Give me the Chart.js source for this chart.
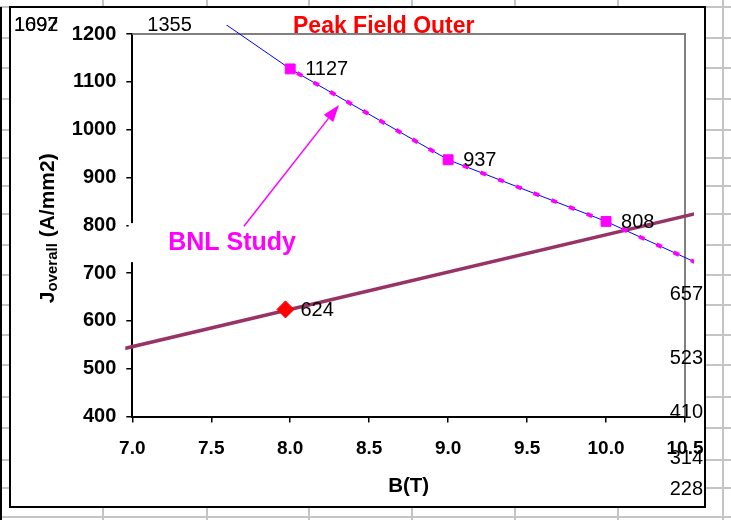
<!DOCTYPE html>
<html>
<head>
<meta charset="utf-8">
<script src="https://cdn.jsdelivr.net/npm/chart.js@4/dist/chart.umd.min.js"></script>
<style>
html, body { margin: 0; padding: 0; background: #fff; }
#contenedor { width: 731px; height: 520px; }
</style>
</head>
<body>
<div id="contenedor"><canvas id="graficaCampo" width="731" height="520"></canvas></div>
<script>
var FUENTE = "'Liberation Sans', Arial, sans-serif";

// B (T) y J overall (A/mm2) del calculo de campo pico
var campoB = [6, 7, 8, 9, 10, 11, 12, 13, 14, 15];
var picoJ = [1697, 1355, 1127, 937, 808, 657, 523, 410, 314, 228];
// recta de carga J = 78 B
var cargaB = [0, 14];
var cargaJ = [0, 1092];
// punto de operacion
var puntoB = [7.97];
var puntoJ = [624];

var marcasX = [7.0, 7.5, 8.0, 8.5, 9.0, 9.5, 10.0, 10.5];
var marcasY = [400, 500, 600, 700, 800, 900, 1000, 1100, 1200];

// lineas de la hoja de calculo detras del grafico
var columnasHoja = [103, 207, 309, 412, 515, 618, 723];
var filasHoja = [7, 38, 68, 99, 130, 158, 186, 214, 245, 275, 305, 335, 365, 397, 428, 460, 488, 517];

// flecha del cuadro de texto, en unidades de los ejes
var flecha = { desdeB: 7.707, desdeJ: 798, hastaB: 8.309, hastaJ: 1051.5 };
var textoBNL = { b: 7.227, j: 748 };

function puntos(xs, ys) {
    var res = [];
    for (var i = 0; i < xs.length; i++) {
        res.push({ x: xs[i], y: ys[i] });
    }
    return res;
}

var etiquetas = [];
for (var i = 0; i < campoB.length; i++) {
    etiquetas.push({ b: campoB[i], j: picoJ[i] });
}
etiquetas.push({ b: puntoB[0], j: puntoJ[0] });
etiquetas.push({ b: cargaB[1], j: cargaJ[1], esquina: true });

var recorte = { left: 7, top: 9, right: 9, bottom: 9 };

var adornos = {
    id: 'adornos',
    beforeDraw: function (chart) {
        var ctx = chart.ctx;
        ctx.save();
        ctx.fillStyle = '#fff';
        ctx.fillRect(0, 0, 731, 520);
        ctx.strokeStyle = '#c4c4c4';
        ctx.lineWidth = 2;
        columnasHoja.forEach(function (x) {
            ctx.beginPath(); ctx.moveTo(x, 0); ctx.lineTo(x, 520); ctx.stroke();
        });
        filasHoja.forEach(function (y) {
            ctx.beginPath(); ctx.moveTo(0, y); ctx.lineTo(731, y); ctx.stroke();
        });
        ctx.fillStyle = '#000';
        ctx.fillRect(0, 7, 2, 513);
        // marco del grafico
        ctx.fillStyle = '#fff';
        ctx.fillRect(10, 7, 695, 500);
        ctx.strokeStyle = '#000';
        ctx.lineWidth = 2;
        ctx.strokeRect(10, 7, 695, 500);
        ctx.restore();
    },
    beforeDatasetsDraw: function (chart) {
        var a = chart.chartArea, ctx = chart.ctx;
        ctx.save();
        ctx.strokeStyle = '#808080';
        ctx.lineWidth = 2;
        ctx.beginPath();
        ctx.moveTo(a.left, a.top);
        ctx.lineTo(a.right, a.top);
        ctx.lineTo(a.right, a.bottom);
        ctx.stroke();
        ctx.restore();
    },
    afterDraw: function (chart) {
        var ctx = chart.ctx, sx = chart.scales.x, sy = chart.scales.y;
        ctx.save();

        // cuadro "BNL Study"
        ctx.font = 'bold 25px ' + FUENTE;
        var tx = sx.getPixelForValue(textoBNL.b), ty = sy.getPixelForValue(textoBNL.j);
        var anchoT = ctx.measureText('BNL Study').width;
        ctx.fillStyle = '#fff';
        ctx.fillRect(tx - 39.5, ty - 27, anchoT + 45, 39);
        ctx.fillStyle = '#FF00FF';
        ctx.textBaseline = 'alphabetic';
        ctx.fillText('BNL Study', tx, ty);

        var x0 = sx.getPixelForValue(flecha.desdeB), y0 = sy.getPixelForValue(flecha.desdeJ);
        var x1 = sx.getPixelForValue(flecha.hastaB), y1 = sy.getPixelForValue(flecha.hastaJ);
        var ang = Math.atan2(y1 - y0, x1 - x0), largo = 17, medio = 6;
        var bx = x1 - largo * Math.cos(ang), by = y1 - largo * Math.sin(ang);
        ctx.strokeStyle = '#FF00FF';
        ctx.lineWidth = 1.5;
        ctx.beginPath(); ctx.moveTo(x0, y0); ctx.lineTo(bx, by); ctx.stroke();
        ctx.beginPath();
        ctx.moveTo(x1, y1);
        ctx.lineTo(bx + medio * Math.sin(ang), by - medio * Math.cos(ang));
        ctx.lineTo(bx - medio * Math.sin(ang), by + medio * Math.cos(ang));
        ctx.closePath();
        ctx.fill();

        // valores junto a cada punto, dentro del marco
        ctx.font = '20px ' + FUENTE;
        ctx.fillStyle = '#000';
        etiquetas.forEach(function (e) {
            var txt = String(e.j), w = ctx.measureText(txt).width;
            var px = sx.getPixelForValue(e.b), py = sy.getPixelForValue(e.j);
            var izq = Math.min(Math.max(px + 15, 14), 703 - w);
            var cy = Math.min(Math.max(py - 1, 23.3), 487.5);
            if (e.esquina) { izq = 14; cy = 23.3; }
            ctx.fillText(txt, izq, cy + 7.2);
        });

        // titulo
        ctx.font = 'bold 23px ' + FUENTE;
        ctx.fillStyle = '#FF0000';
        ctx.fillText('Peak Field Outer', 293, 33);

        // titulos de ejes
        ctx.fillStyle = '#000';
        ctx.font = 'bold 20.5px ' + FUENTE;
        ctx.textAlign = 'center';
        ctx.fillText('B(T)', (chart.chartArea.left + chart.chartArea.right) / 2, 492);
        ctx.textAlign = 'left';

        var fGrande = 'bold 21px ' + FUENTE, fChica = 'bold 15px ' + FUENTE;
        ctx.font = fGrande; var wJ = ctx.measureText('J').width;
        var wR = ctx.measureText(' (A/mm2)').width;
        ctx.font = fChica; var wS = ctx.measureText('overall').width;
        var total = wJ + wS + wR;
        ctx.translate(53.5, (chart.chartArea.top + chart.chartArea.bottom) / 2 + 3);
        ctx.rotate(-Math.PI / 2);
        var cx = -total / 2;
        ctx.font = fGrande; ctx.fillText('J', cx, 0); cx += wJ;
        ctx.font = fChica; ctx.fillText('overall', cx, 3); cx += wS;
        ctx.font = fGrande; ctx.fillText(' (A/mm2)', cx, 0);
        ctx.restore();
    }
};

var ctx = document.getElementById('graficaCampo').getContext('2d');
var grafica = new Chart(ctx, {
    type: 'scatter',
    data: {
        datasets: [{
            label: 'Operating point',
            data: puntos(puntoB, puntoJ),
            showLine: false,
            pointStyle: 'rectRot',
            pointRadius: 8.5,
            backgroundColor: '#FF0000',
            borderColor: '#FF0000',
            borderWidth: 1,
            clip: recorte
        }, {
            label: 'BNL Study',
            data: puntos(campoB.slice(2), picoJ.slice(2)),
            showLine: true,
            borderColor: '#FF00FF',
            backgroundColor: '#FF00FF',
            borderWidth: 4,
            borderDash: [6, 13],
            borderDashOffset: -8,
            pointStyle: 'rect',
            pointRadius: 7,
            pointBorderWidth: 1,
            clip: recorte
        }, {
            label: 'Peak Field Outer',
            data: puntos(campoB, picoJ),
            showLine: true,
            borderColor: '#0000FF',
            borderWidth: 1,
            pointRadius: 0,
            clip: recorte
        }, {
            label: 'Load line',
            data: puntos(cargaB, cargaJ),
            showLine: true,
            borderColor: '#993366',
            borderWidth: 3.5,
            pointRadius: 0,
            clip: recorte
        }]
    },
    options: {
        responsive: false,
        animation: false,
        devicePixelRatio: 1,
        layout: { padding: { left: 0, top: 34, right: 46, bottom: 0 } },
        plugins: {
            legend: { display: false },
            tooltip: { enabled: false }
        },
        scales: {
            x: {
                type: 'linear',
                min: 7,
                max: 10.5,
                afterBuildTicks: function (s) {
                    s.ticks = marcasX.map(function (v) { return { value: v }; });
                },
                afterFit: function (s) { s.height = 103.5; },
                ticks: {
                    color: '#000',
                    font: { family: FUENTE, size: 19, weight: 'bold' },
                    padding: 15,
                    maxRotation: 0,
                    autoSkip: false,
                    callback: function (v) { return Number(v).toFixed(1); }
                },
                grid: { drawOnChartArea: false, tickLength: 6, color: '#000', lineWidth: 1.5 },
                border: { color: '#000', width: 2 }
            },
            y: {
                type: 'linear',
                min: 400,
                max: 1200,
                afterBuildTicks: function (s) {
                    s.ticks = marcasY.map(function (v) { return { value: v }; });
                },
                afterFit: function (s) { s.width = 132.3; },
                ticks: {
                    color: '#000',
                    font: { family: FUENTE, size: 20, weight: 'bold' },
                    padding: 10,
                    callback: function (v) { return String(v); }
                },
                grid: { drawOnChartArea: false, tickLength: 6, color: '#000', lineWidth: 1.5 },
                border: { color: '#000', width: 2 }
            }
        }
    },
    plugins: [adornos]
});
</script>
</body>
</html>
